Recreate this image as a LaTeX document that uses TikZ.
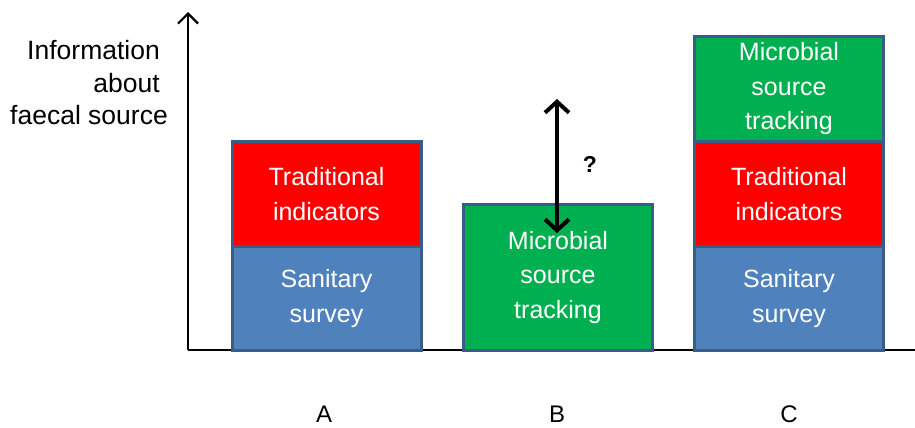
\documentclass[tikz,border=0pt]{standalone}
\usepackage{fontspec}
\setmainfont{Liberation Sans}
\usetikzlibrary{arrows.meta}
\definecolor{bxred}{HTML}{FF0000}
\definecolor{bxgreen}{HTML}{00B050}
\definecolor{bxblue}{HTML}{4F81BD}
\definecolor{bxborder}{HTML}{385D8A}
\begin{document}
\begin{tikzpicture}[x=1pt,y=-1pt,
  bar/.style={draw=bxborder, line width=3pt, inner sep=0pt, minimum width=189pt,
    align=center, text=white, font=\fontsize{25}{34.5}\selectfont},
  redbar/.style={bar, fill=bxred, minimum height=105pt},
  bluebar/.style={bar, fill=bxblue, minimum height=104pt},
  greenbar/.style={bar, fill=bxgreen},
  axisline/.style={line width=2pt, black},
  lbl/.style={font=\fontsize{24}{33}\selectfont, inner sep=0pt},
  ylbl/.style={font=\fontsize{26.5}{33}\selectfont, inner sep=0pt, anchor=east}
]
\useasboundingbox (0,0) rectangle (915,428);
% axes
\coordinate (origin) at (188,350);
\coordinate (ytop) at (188,12);
\coordinate (xend) at (916,350);
\draw[axisline] (origin) -- (xend);
\draw[axisline, -{Straight Barb[length=10pt,width=20pt,line width=2.2pt]}] (origin) -- (ytop);
\node[ylbl] (yl1) at (160,50) {Information};
\node[ylbl] (yl2) at (160,83) {about};
\node[ylbl] (yl3) at (168,115) {faecal source};
% A
\node[bluebar] (a1) at (326.5,298.5) {Sanitary\\survey};
\node[redbar] (a2) at (326.5,194) {Traditional\\indicators};
% B
\node[greenbar, minimum height=146pt] (b1) at (558,277.5) {Microbial\\source\\tracking};
% C
\node[bluebar] (c1) at (789,298.5) {Sanitary\\survey};
\node[redbar] (c2) at (789,194) {Traditional\\indicators};
\node[greenbar, minimum height=105pt] (c3) at (789,89) {Microbial\\source\\tracking};
% arrow
\coordinate (qtop) at (557,99);
\coordinate (qbot) at (557,233);
\draw[line width=4pt, {Straight Barb[length=11pt,width=24pt]}-{Straight Barb[length=11pt,width=24pt]}] (qtop) -- (qbot);
\node[font=\bfseries\fontsize{23}{26}\selectfont] (q) at (590,164) {?};
% labels
\node[lbl] (la) at (324,414) {A};
\node[lbl] (lb) at (557,414) {B};
\node[lbl] (lc) at (789,414) {C};
\end{tikzpicture}
\end{document}
